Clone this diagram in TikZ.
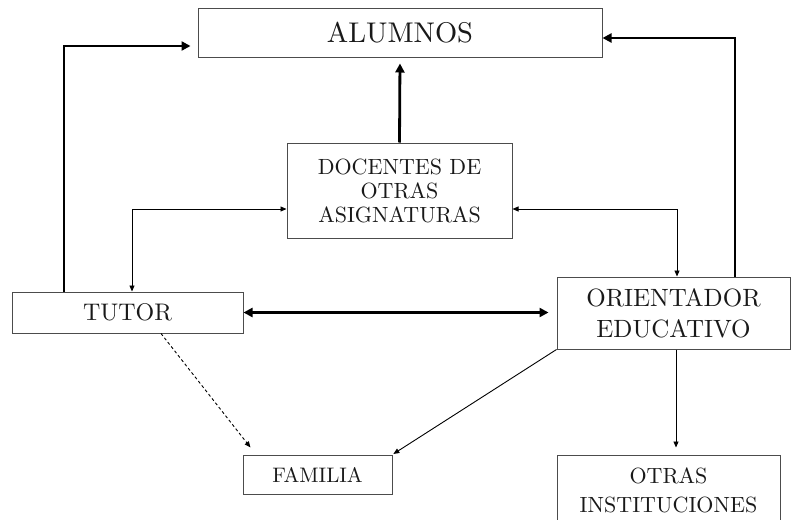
\documentclass[tikz,border=0pt]{standalone}
\usepackage{fontspec}
\setmainfont{lmroman10-regular.otf}
\usetikzlibrary{arrows.meta}
\begin{document}
\begin{tikzpicture}[x=1pt,y=-1pt,
  box/.style={draw=black!70, line width=1pt, rectangle, inner sep=0pt, align=center, text=black!90},
  bigtip/.tip={Triangle[length=9pt,width=9pt]},
  smalltip/.tip={Triangle[length=6pt,width=5pt]},
  thickarr/.style={line width=2.8pt, -bigtip},
  thickboth/.style={line width=2.8pt, bigtip-bigtip},
  thinarr/.style={line width=0.9pt, -smalltip},
  thinboth/.style={line width=0.9pt, smalltip-smalltip},
  dasharr/.style={line width=0.9pt, dash pattern=on 3pt off 2.5pt, -smalltip}
]
\useasboundingbox (0,0) rectangle (791,519);
\clip (0,0) rectangle (791,519);

% boxes
\node[box, font=\fontsize{28.5pt}{30pt}\selectfont, minimum width=404pt, minimum height=48pt] (alu) at (400,33) {ALUMNOS};
\node[box, font=\fontsize{22pt}{24pt}\selectfont, minimum width=225pt, minimum height=95pt] (doc) at (399.5,190.5) {DOCENTES DE\\OTRAS\\ASIGNATURAS};
\node[box, font=\fontsize{24pt}{30pt}\selectfont, minimum width=231pt, minimum height=41pt] (tutor) at (127.5,312.5) {TUTOR};
\node[box, font=\fontsize{25pt}{31pt}\selectfont, minimum width=233pt, minimum height=72pt] (ori) at (673.5,313) {ORIENTADOR\\EDUCATIVO};
\node[box, font=\fontsize{21pt}{24pt}\selectfont, minimum width=149pt, minimum height=39pt] (fam) at (317.5,474.5) {FAMILIA};
\node[box, font=\fontsize{22pt}{29pt}\selectfont, minimum width=223pt, minimum height=70pt] (oi) at (668.5,490) {OTRAS\\INSTITUCIONES};

% helper coordinates
\coordinate (c1) at (64,46);
\coordinate (c3) at (735,38);
\coordinate (d1) at (132,209);
\coordinate (d2) at (677,209);
\coordinate (c7) at (161,0);
\coordinate (f7) at (256,0);
\coordinate (c9) at (676,0);

% thick connectors
\draw[thickarr, shorten >=7pt] (c1 |- tutor.north) -- (c1) -- (c1 -| alu.west);
\draw[thickarr, shorten >=6pt] (doc.north) -- (alu.south);
\draw[thickarr] (c3 |- ori.north) -- (c3) -- (c3 -| alu.east);
\draw[thickboth, shorten >=8pt] (tutor.east) -- (tutor.east -| ori.west);

% thin connectors
\draw[thinboth] (d1 -| doc.west) -- (d1) -- (d1 |- tutor.north);
\draw[thinboth] (d2 -| doc.east) -- (d2) -- (d2 |- ori.north);
\draw[dasharr, shorten >=9pt] (c7 |- tutor.south) -- (f7 |- fam.north);
\draw[thinarr, shorten >=1pt] (ori.south west) -- (fam.north east);
\draw[thinarr, shorten >=7pt] (c9 |- ori.south) -- (c9 |- oi.north);
\end{tikzpicture}
\end{document}
